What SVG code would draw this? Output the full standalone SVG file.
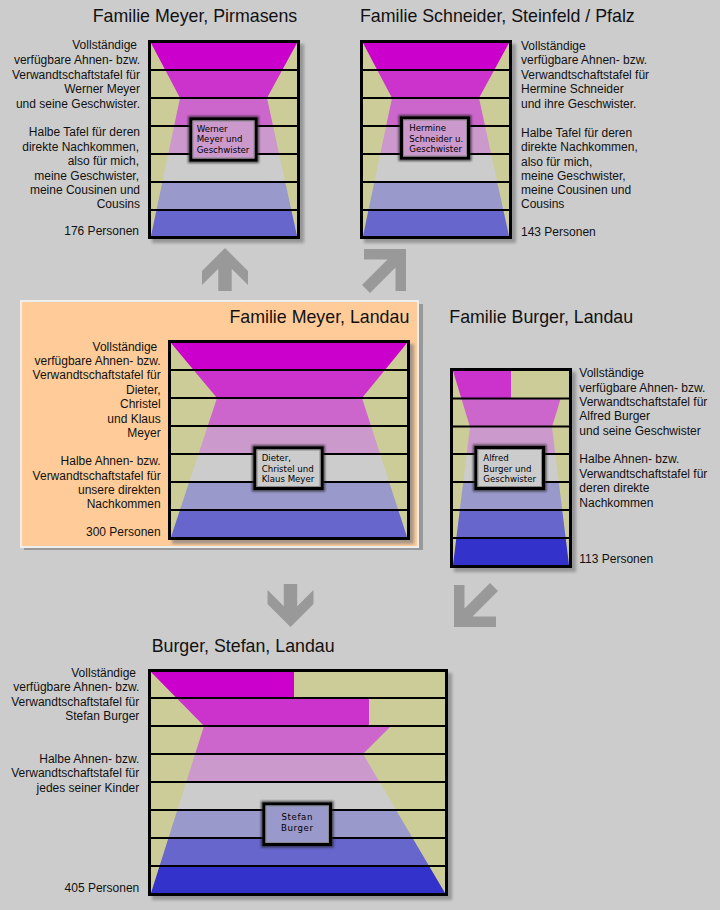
<svg xmlns="http://www.w3.org/2000/svg" width="720" height="910" viewBox="0 0 720 910">
<style>
text{font-family:"Liberation Sans",Arial,sans-serif;fill:#111}
.s{font-size:12px}
.h{font-size:17.8px}
.b{font-family:"DejaVu Sans","Liberation Sans",sans-serif;font-size:8.6px;fill:#000}
.e{text-anchor:end}
.m{text-anchor:middle;letter-spacing:0.6px}
.fr{fill:none;stroke:#000;stroke-width:3}
.ln{stroke:#000;stroke-width:2}
.shd{fill:#808080;opacity:.7}
.glow{fill:none;stroke:#222;stroke-width:6;opacity:.75}
.bx{stroke:#000;stroke-width:3}
.bxi{fill:none;stroke:#8a8a8a;stroke-width:1}
.arr{fill:#999}
.kh{fill:#CCCC99}
.c1{fill:#CC00CC}.c2{fill:#CC33CC}.c3{fill:#CC66CC}.c4{fill:#CC99CC}.c5{fill:#CCCCCC}.c6{fill:#9999CC}.c7{fill:#6666CC}.c8{fill:#3333CC}
</style>
<defs>
<filter id="blur" x="-20%" y="-20%" width="140%" height="140%"><feGaussianBlur stdDeviation="1.5"/></filter>
<filter id="blur2" x="-20%" y="-20%" width="140%" height="140%"><feGaussianBlur stdDeviation="1"/></filter>
<clipPath id="cpTL"><polygon points="151,43 297,43 267,98 297,236 151,236 180,98"/></clipPath>
<clipPath id="cpTR"><polygon points="363,43 509,43 479,98 509,236 363,236 392,98"/></clipPath>
<clipPath id="cpML"><polygon points="171,343 407,343 362,398 407,537 171,537 217,398"/></clipPath>
<clipPath id="cpMR"><polygon points="453,371 569,371 552,427 569,565 453,565 470,427"/></clipPath>
<clipPath id="cpB"><polygon points="151,672 445,672 363,754 445,893 151,893 204,726"/></clipPath>
</defs>
<rect x="0" y="0" width="720" height="910" fill="#CCCCCC"/>

<g id="arrows">
<polygon class="arr" points="225,248 248,271 248,285 231.7,268.7 231.7,291 218.3,291 218.3,268.7 202,285 202,271"/>
<polygon class="arr" points="406,249 406,291 395.5,291 395.5,267.5 370,293 362,285 387.5,259.5 364,259.5 364,249"/>
<polygon class="arr" points="290.5,627 267.5,604 267.5,590 283.8,606.3 283.8,584 297.2,584 297.2,606.3 313.5,590 313.5,604"/>
<polygon class="arr" points="454,627 454,585 464.5,585 464.5,608.5 490,583 498,591 472.5,616.5 496,616.5 496,627"/>
</g>

<g id="familie-meyer-pirmasens">
<text class="h" x="92.7" y="22.3">Familie Meyer, Pirmasens</text>
<rect class="shd" x="152" y="44" width="152" height="199" filter="url(#blur)"/>
<rect class="kh" x="151" y="43" width="146" height="193"/>
<g clip-path="url(#cpTL)">
<rect class="c1" x="151" y="43" width="146" height="27"/>
<rect class="c2" x="151" y="70" width="146" height="28"/>
<rect class="c3" x="151" y="98" width="146" height="28"/>
<rect class="c4" x="151" y="126" width="146" height="28"/>
<rect class="c5" x="151" y="154" width="146" height="28"/>
<rect class="c6" x="151" y="182" width="146" height="28"/>
<rect class="c7" x="151" y="210" width="146" height="26"/>
</g>
<g class="ln"><line x1="151" y1="70" x2="297" y2="70"/><line x1="151" y1="98" x2="297" y2="98"/><line x1="151" y1="126" x2="297" y2="126"/><line x1="151" y1="154" x2="297" y2="154"/><line x1="151" y1="182" x2="297" y2="182"/><line x1="151" y1="210" x2="297" y2="210"/></g>
<rect class="fr" x="149.5" y="41.5" width="149" height="196"/>
<rect class="glow" x="191" y="119" width="65" height="41" filter="url(#blur2)"/>
<rect class="bx c4" x="191" y="119" width="65" height="41"/>
<rect class="bxi" x="193" y="121" width="61" height="37"/>
<text class="b" x="196.7" y="131.7">Werner</text>
<text class="b" x="196.7" y="142.3">Meyer und</text>
<text class="b" x="196.7" y="152.7">Geschwister</text>
<text class="s e" x="137" y="49">Vollständige</text>
<text class="s e" x="140" y="64">verfügbare Ahnen- bzw.</text>
<text class="s e" x="140" y="78.5">Verwandtschaftstafel für</text>
<text class="s e" x="140" y="93">Werner Meyer</text>
<text class="s e" x="140" y="107.5">und seine Geschwister.</text>
<text class="s e" x="140" y="136">Halbe Tafel für deren</text>
<text class="s e" x="139" y="150.5">direkte Nachkommen,</text>
<text class="s e" x="139" y="165">also für mich,</text>
<text class="s e" x="139" y="179.5">meine Geschwister,</text>
<text class="s e" x="140" y="194">meine Cousinen und</text>
<text class="s e" x="140" y="208">Cousins</text>
<text class="s e" x="139" y="235">176 Personen</text>
</g>

<g id="familie-schneider-steinfeld">
<text class="h" x="360" y="22.3">Familie Schneider, Steinfeld / Pfalz</text>
<rect class="shd" x="364" y="44" width="152" height="199" filter="url(#blur)"/>
<rect class="kh" x="363" y="43" width="146" height="193"/>
<g clip-path="url(#cpTR)">
<rect class="c1" x="363" y="43" width="146" height="27"/>
<rect class="c2" x="363" y="70" width="146" height="28"/>
<rect class="c3" x="363" y="98" width="146" height="28"/>
<rect class="c4" x="363" y="126" width="146" height="28"/>
<rect class="c5" x="363" y="154" width="146" height="28"/>
<rect class="c6" x="363" y="182" width="146" height="28"/>
<rect class="c7" x="363" y="210" width="146" height="26"/>
</g>
<g class="ln"><line x1="363" y1="70" x2="509" y2="70"/><line x1="363" y1="98" x2="509" y2="98"/><line x1="363" y1="126" x2="509" y2="126"/><line x1="363" y1="154" x2="509" y2="154"/><line x1="363" y1="182" x2="509" y2="182"/><line x1="363" y1="210" x2="509" y2="210"/></g>
<rect class="fr" x="361.5" y="41.5" width="149" height="196"/>
<rect class="glow" x="401.5" y="118" width="67" height="40" filter="url(#blur2)"/>
<rect class="bx c4" x="401.5" y="118" width="67" height="40"/>
<rect class="bxi" x="403.5" y="120" width="63" height="36"/>
<text class="b" x="409.3" y="130.7">Hermine</text>
<text class="b" x="409.3" y="141.7">Schneider u.</text>
<text class="b" x="409.3" y="151.7">Geschwister</text>
<text class="s" x="521" y="49.5">Vollständige</text>
<text class="s" x="521" y="64">verfügbare Ahnen- bzw.</text>
<text class="s" x="521" y="78.5">Verwandtschaftstafel für</text>
<text class="s" x="521" y="93">Hermine Schneider</text>
<text class="s" x="521" y="107.5">und ihre Geschwister.</text>
<text class="s" x="521" y="136.5">Halbe Tafel für deren</text>
<text class="s" x="521" y="151">direkte Nachkommen,</text>
<text class="s" x="521" y="165.5">also für mich,</text>
<text class="s" x="521" y="180">meine Geschwister,</text>
<text class="s" x="521" y="194">meine Cousinen und</text>
<text class="s" x="521" y="208">Cousins</text>
<text class="s" x="521" y="236">143 Personen</text>
</g>

<g id="familie-meyer-landau">
<rect x="24" y="304" width="399" height="246" fill="#999999"/>
<rect x="21" y="301" width="397" height="246" fill="#FFCC99" stroke="#EEEEEE" stroke-width="2"/>
<text class="h e" x="409.3" y="323.3">Familie Meyer, Landau</text>
<rect class="shd" x="172" y="344" width="242" height="200" filter="url(#blur)" opacity=".5"/>
<rect class="kh" x="171" y="343" width="236" height="194"/>
<g clip-path="url(#cpML)">
<rect class="c1" x="171" y="343" width="236" height="27"/>
<rect class="c2" x="171" y="370" width="236" height="28"/>
<rect class="c3" x="171" y="398" width="236" height="28"/>
<rect class="c4" x="171" y="426" width="236" height="28"/>
<rect class="c5" x="171" y="454" width="236" height="28"/>
<rect class="c6" x="171" y="482" width="236" height="28"/>
<rect class="c7" x="171" y="510" width="236" height="27"/>
</g>
<g class="ln"><line x1="171" y1="370" x2="407" y2="370"/><line x1="171" y1="398" x2="407" y2="398"/><line x1="171" y1="426" x2="407" y2="426"/><line x1="171" y1="454" x2="407" y2="454"/><line x1="171" y1="482" x2="407" y2="482"/><line x1="171" y1="510" x2="407" y2="510"/></g>
<rect class="fr" x="169.5" y="341.5" width="239" height="197"/>
<rect class="glow" x="255" y="448" width="67" height="40.5" filter="url(#blur2)"/>
<rect class="bx c5" x="255" y="448" width="67" height="40.5"/>
<rect class="bxi" x="257" y="450" width="63" height="36.5"/>
<text class="b" x="261.7" y="461">Dieter,</text>
<text class="b" x="261.7" y="471.7">Christel und</text>
<text class="b" x="261.7" y="481.7">Klaus Meyer</text>
<text class="s e" x="157.3" y="351">Vollständige</text>
<text class="s e" x="160.7" y="365">verfügbare Ahnen- bzw.</text>
<text class="s e" x="160.7" y="379.3">Verwandtschaftstafel für</text>
<text class="s e" x="160.7" y="394">Dieter,</text>
<text class="s e" x="160.7" y="408.3">Christel</text>
<text class="s e" x="160.7" y="422.7">und Klaus</text>
<text class="s e" x="160.7" y="436.7">Meyer</text>
<text class="s e" x="160.7" y="465">Halbe Ahnen- bzw.</text>
<text class="s e" x="160.7" y="480">Verwandtschaftstafel für</text>
<text class="s e" x="160.7" y="494.3">unsere direkten</text>
<text class="s e" x="160.7" y="508.3">Nachkommen</text>
<text class="s e" x="160.7" y="535.7">300 Personen</text>
</g>

<g id="familie-burger-landau">
<text class="h" x="449.3" y="323.3">Familie Burger, Landau</text>
<rect class="shd" x="454" y="372" width="122" height="200" filter="url(#blur)"/>
<rect class="kh" x="453" y="371" width="116" height="194"/>
<g clip-path="url(#cpMR)">
<rect class="c2" x="453" y="371" width="58" height="27.5"/>
<rect class="c3" x="453" y="398.5" width="116" height="28"/>
<rect class="c4" x="453" y="426.5" width="116" height="27.5"/>
<rect class="c5" x="453" y="454" width="116" height="28"/>
<rect class="c6" x="453" y="482" width="116" height="28"/>
<rect class="c7" x="453" y="510" width="116" height="28"/>
<rect class="c8" x="453" y="538" width="116" height="27"/>
</g>
<g class="ln"><line x1="453" y1="398.5" x2="569" y2="398.5"/><line x1="453" y1="426.5" x2="569" y2="426.5"/><line x1="453" y1="454" x2="569" y2="454"/><line x1="453" y1="482" x2="569" y2="482"/><line x1="453" y1="510" x2="569" y2="510"/><line x1="453" y1="538" x2="569" y2="538"/></g>
<rect class="fr" x="451.5" y="369.5" width="119" height="197"/>
<rect class="glow" x="476" y="447.5" width="67.5" height="41" filter="url(#blur2)"/>
<rect class="bx c5" x="476" y="447.5" width="67.5" height="41"/>
<rect class="bxi" x="478" y="449.5" width="63.5" height="37"/>
<text class="b" x="483.3" y="460.7">Alfred</text>
<text class="b" x="483.3" y="471.7">Burger und</text>
<text class="b" x="483.3" y="481.7">Geschwister</text>
<text class="s" x="579.3" y="376.7">Vollständige</text>
<text class="s" x="579.3" y="391.7">verfügbare Ahnen- bzw.</text>
<text class="s" x="579.3" y="406">Verwandtschaftstafel für</text>
<text class="s" x="579.3" y="420">Alfred Burger</text>
<text class="s" x="579.3" y="435">und seine Geschwister</text>
<text class="s" x="579.3" y="463.3">Halbe Ahnen- bzw.</text>
<text class="s" x="579.3" y="477.7">Verwandtschaftstafel für</text>
<text class="s" x="579.3" y="492.3">deren direkte</text>
<text class="s" x="579.3" y="506.7">Nachkommen</text>
<text class="s" x="579.3" y="563.3">113 Personen</text>
</g>

<g id="burger-stefan-landau">
<text class="h" x="151.7" y="651.7">Burger, Stefan, Landau</text>
<rect class="shd" x="152" y="673" width="300" height="227" filter="url(#blur)"/>
<rect class="kh" x="151" y="672" width="294" height="221"/>
<g clip-path="url(#cpB)">
<rect class="c1" x="151" y="672" width="143" height="26"/>
<rect class="c2" x="151" y="698" width="218" height="28"/>
<rect class="c3" x="151" y="726" width="294" height="28"/>
<rect class="c4" x="151" y="754" width="294" height="28"/>
<rect class="c5" x="151" y="782" width="294" height="28"/>
<rect class="c6" x="151" y="810" width="294" height="28"/>
<rect class="c7" x="151" y="838" width="294" height="28"/>
<rect class="c8" x="151" y="866" width="294" height="27"/>
</g>
<g class="ln"><line x1="151" y1="698" x2="445" y2="698"/><line x1="151" y1="726" x2="445" y2="726"/><line x1="151" y1="754" x2="445" y2="754"/><line x1="151" y1="782" x2="445" y2="782"/><line x1="151" y1="810" x2="445" y2="810"/><line x1="151" y1="838" x2="445" y2="838"/><line x1="151" y1="866" x2="445" y2="866"/></g>
<rect class="fr" x="149.5" y="670.5" width="297" height="224"/>
<rect class="glow" x="264" y="804" width="66.5" height="40.5" filter="url(#blur2)"/>
<rect class="bx c6" x="264" y="804" width="66.5" height="40.5"/>
<rect class="bxi" x="266" y="806" width="62.5" height="36.5"/>
<text class="b m" x="297.3" y="820">Stefan</text>
<text class="b m" x="297.3" y="831">Burger</text>
<text class="s e" x="136" y="676.7">Vollständige</text>
<text class="s e" x="139.3" y="691">verfügbare Ahnen- bzw.</text>
<text class="s e" x="139.3" y="705.7">Verwandtschaftstafel für</text>
<text class="s e" x="139.3" y="720">Stefan Burger</text>
<text class="s e" x="139.3" y="762.7">Halbe Ahnen- bzw.</text>
<text class="s e" x="139.3" y="777.3">Verwandtschaftstafel für</text>
<text class="s e" x="139.3" y="791.7">jedes seiner Kinder</text>
<text class="s e" x="139.3" y="891.7">405 Personen</text>
</g>
</svg>
